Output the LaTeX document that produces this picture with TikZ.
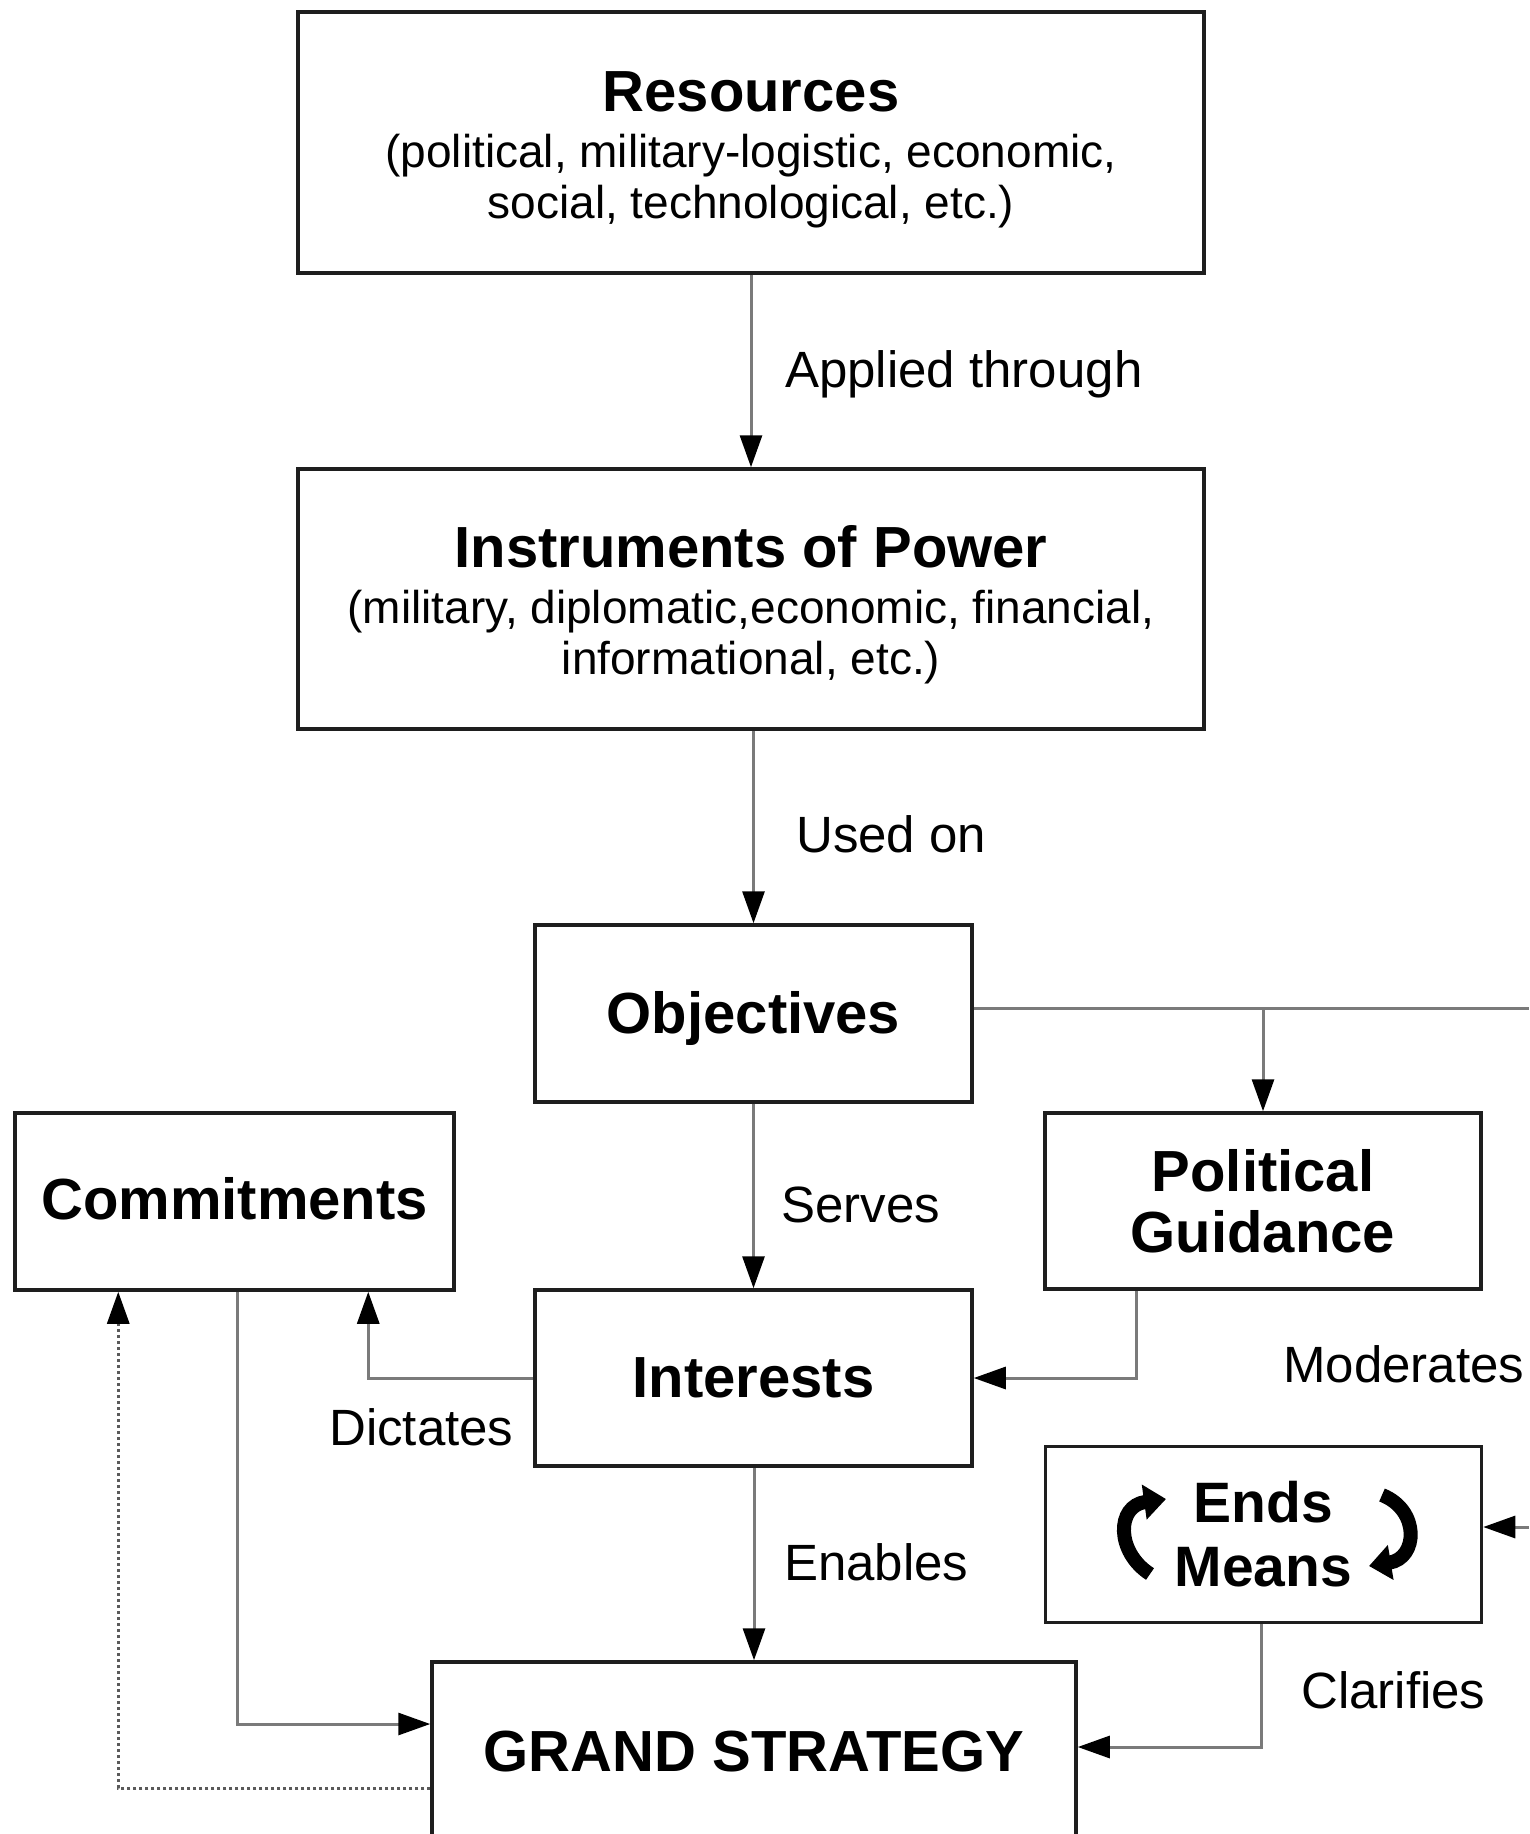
\documentclass[tikz,border=0pt]{standalone}
\usepackage{fontspec}
\setmainfont{Liberation Sans}
\usetikzlibrary{arrows.meta,calc}
\definecolor{boxcol}{HTML}{1E1E1E}
\definecolor{conncol}{HTML}{7A7A7A}
\definecolor{dotcol}{HTML}{5A5A5A}
\begin{document}
\begin{tikzpicture}[x=1pt,y=-1pt,
  box/.style={draw=boxcol, line width=3.5pt, fill=white, inner sep=0pt, align=center,
    font=\fontsize{58}{61}\selectfont\bfseries},
  subbox/.style={box, font=\fontsize{46}{51}\selectfont},
  conn/.style={draw=conncol, line width=3pt, -{Triangle[length=32pt,width=22pt,color=black]}},
  dotconn/.style={draw=dotcol, line width=3pt, dash pattern=on 3pt off 3pt,
    -{Triangle[length=32pt,width=22pt,color=black]}},
  lab/.style={font=\fontsize{51}{60}\selectfont, anchor=west, inner sep=0pt},
  cyc/.style={line width=14pt, line cap=butt, -{Triangle[length=22pt,width=34pt]}}
]
\useasboundingbox (0,0) rectangle (1529,1834);
\clip (0,0) rectangle (1529,1834);
\fill[white] (0,0) rectangle (1529,1834);

% boxes
\node[subbox, minimum width=906pt, minimum height=261pt] (res) at (751,142.5)
  {\rule{0pt}{54pt}{\fontsize{58}{56}\selectfont\bfseries Resources}\\[5pt](political, military-logistic, economic,\\social, technological, etc.)};
\node[subbox, minimum width=906pt, minimum height=260pt] (ins) at (751,599)
  {\rule{0pt}{54pt}{\fontsize{58}{56}\selectfont\bfseries Instruments of Power}\\[5pt](military, diplomatic,economic, financial,\\informational, etc.)};
\node[box, minimum width=437pt, minimum height=177pt] (obj) at (753.5,1013.5) {\raisebox{-5pt}[\height][\depth]{Objectives}};
\node[box, minimum width=439pt, minimum height=177pt] (com) at (234.5,1201.5) {\raisebox{3pt}[\height][\depth]{Commitments}};
\node[box, minimum width=436pt, minimum height=176pt] (pg) at (1263,1201) {Political\\Guidance};
\node[box, minimum width=437pt, minimum height=176pt] (int) at (753.5,1378) {Interests};
\node[box, minimum width=436pt, minimum height=176pt, font=\fontsize{57}{64}\selectfont\bfseries] (em) at (1263.5,1534.5) {Ends\\Means};
\node[box, minimum width=644pt, minimum height=180pt] (gs) at (754,1752) {GRAND STRATEGY};

% cycle arrows in Ends/Means
\draw[cyc] (1150,1574) .. controls (1116,1552) and (1116,1506) .. (1166,1499);
\draw[cyc] (1382,1495) .. controls (1420,1510) and (1418,1558) .. (1369,1566);

% free ends at the right edge
\coordinate (redgeA) at (1529,1008);
\coordinate (redgeB) at (1529,1527);

% connectors
\draw[conn] (res.south) -- (ins.north);
\draw[conn] (ins.south -| obj.north) -- (obj.north);
\draw[conn] (obj.south) -- (int.north);
\draw[conn] (int.south -| gs.north) -- (gs.north);
\draw[draw=conncol, line width=3pt] (obj.east |- redgeA) -- (redgeA);
\draw[conn] (redgeA -| pg.north) -- (pg.north);
\draw[conn] ([xshift=93pt]pg.south west) |- (int.east);
\draw[conn] (int.west) -| ([xshift=355pt]com.south west);
\draw[conn] ([xshift=224pt]com.south west) |- ([yshift=28pt]gs.west);
\draw[dotconn] ([yshift=-36pt]gs.west) -| ([xshift=105pt]com.south west);
\draw[conn] ([xshift=218pt]em.south west) |- ([yshift=5pt]gs.east);
\draw[conn] (redgeB) -- (redgeB -| em.east);

% labels
\node[lab] (lApplied) at (785,374) {Applied through};
\node[lab] (lUsed) at (796,834) {Used on};
\node[lab] (lServes) at (781,1205) {Serves};
\node[lab] (lModerates) at (1283,1364) {Moderates};
\node[lab] (lDictates) at (329,1427) {Dictates};
\node[lab] (lEnables) at (784,1562) {Enables};
\node[lab] (lClarifies) at (1301,1690) {Clarifies};
\end{tikzpicture}
\end{document}
